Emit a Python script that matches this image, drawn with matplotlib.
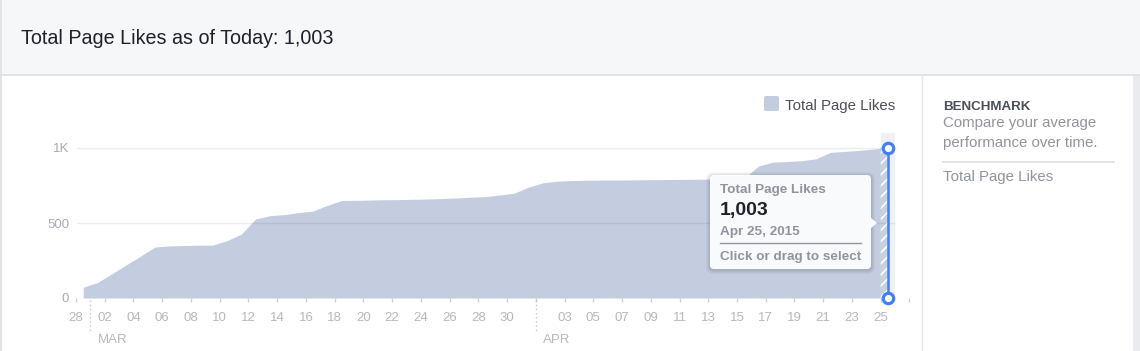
import numpy as np
import matplotlib
matplotlib.use('Agg')
import matplotlib.pyplot as plt
from matplotlib.patches import Rectangle, FancyBboxPatch, Polygon

plt.rcParams['font.family'] = ['Liberation Sans', 'DejaVu Sans']
plt.rcParams['hatch.linewidth'] = 1.2
plt.rcParams['hatch.color'] = 'white'

# total page likes per day, Feb 28 -> Apr 25 2015
likes = [72, 103, 162, 221, 280, 340, 347, 350, 352, 352, 382, 426, 527, 549, 556, 569,
         580, 618, 650, 651, 653, 655, 656, 658, 660, 663, 667, 672, 676, 687, 699, 739,
         768, 779, 783, 785, 786, 786, 787, 788, 789, 790, 791, 792, 793, 795, 797, 880,
         906, 910, 915, 928, 971, 977, 984, 993, 1003]
# one tick every 2 days starting Feb 28
tick_labels = ['28', '02', '04', '06', '08', '10', '12', '14', '16', '18', '20', '22', '24',
               '26', '28', '30', '', '03', '05', '07', '09', '11', '13', '15', '17', '19',
               '21', '23', '25', '']
months = ['MAR', 'APR']
month_start = [1, 32]   # day index of the 1st of each month
y_ticks = [0, 500, 1000]
y_labels = ['0', '500', '1K']
total = '1,003'
sel_date = 'Apr 25, 2015'

W, H = 1140, 351
X0, PXD = 76, 14.37    # pixel of day 0, pixels per day
Y0, PXV = 298, 0.15    # pixel of 0 likes, pixels per like

fig = plt.figure(figsize=(W / 100, H / 100), dpi=100, facecolor='white')

# background layer (page chrome)
bg = fig.add_axes([0, 0, 1, 1], zorder=0)
bg.set_xlim(0, W)
bg.set_ylim(H, 0)
bg.axis('off')
bg.add_patch(Rectangle((0, 0), W, 74, color='#f6f7f9', lw=0))
bg.plot([0, W], [74.5, 74.5], color='#dddfe2', lw=1.2)
bg.plot([1, 1], [0, H], color='#dddfe2', lw=1.2)
bg.plot([921.5, 921.5], [75, H], color='#e5e6e9', lw=1)
bg.add_patch(Rectangle((1133, 75), 7, H, color='#e9ebee', lw=0))
bg.text(21, 43.5, 'Total Page Likes as of Today: ' + total, fontsize=14.2, color='#1d2129',
        va='baseline')

# legend
bg.add_patch(FancyBboxPatch((764, 96), 15, 15, boxstyle='round,pad=0,rounding_size=2',
                            fc='#c4cde0', ec='none'))
bg.text(785, 110, 'Total Page Likes', fontsize=10.8, color='#4b4f56', va='baseline')

# benchmark panel
bg.text(943, 109.5, 'BENCHMARK', fontsize=9.6, fontweight='bold', color='#4b4f56', va='baseline')
bg.text(943, 127.5, 'Compare your average', fontsize=10.8, color='#90949c', va='baseline')
bg.text(943, 146.5, 'performance over time.', fontsize=10.8, color='#90949c', va='baseline')
bg.plot([943, 1114], [161.5, 161.5], color='#dddfe2', lw=1.2)
bg.text(943, 181.5, 'Total Page Likes', fontsize=10.8, color='#90949c', va='baseline')

# main chart
ax = fig.add_axes([X0 / W, (H - Y0) / H, (915 - X0) / W, (Y0 - 130) / H], zorder=1)
ax.patch.set_alpha(0)
ax.set_xlim(0, (915 - X0) / PXD)
ax.set_ylim(0, (Y0 - 130) / PXV)

days = np.arange(len(likes)) + 0.5
sel = len(likes) - 1

ax.fill_between([sel, sel + 1], 0, 1100, color='#f0f1f4', lw=0, zorder=0.5)
ax.fill_between(days, likes, color='#c4cde0', lw=0, zorder=1)
xs = [sel, days[sel]]
ax.fill_between(xs, np.interp(xs, days, likes), facecolor='#c9d0de', edgecolor='white',
                hatch='///', lw=0, zorder=1.5)
ax.hlines(y_ticks[1:], 0.1, sel + 1, colors='#1d2129', alpha=0.08, lw=1, zorder=2)

ax.plot([days[sel]] * 2, [0, likes[sel]], color='#4080ff', lw=1.8, zorder=4,
        solid_capstyle='butt')
ax.plot([days[sel]] * 2, [0, likes[sel]], 'o', ms=7.5, mfc='white', mec='#4080ff', mew=2.3,
        zorder=5, clip_on=False)

ax.set_xticks(np.arange(0, 2 * len(tick_labels), 2), tick_labels)
ax.tick_params(axis='x', length=3, width=1, color='#ccd0d5', pad=7, labelsize=9.5,
               labelcolor='#b4b8bf')
ax.set_yticks(y_ticks, y_labels)
ax.tick_params(axis='y', length=0, pad=5, labelsize=9.5, labelcolor='#a7abb2')
for s in ax.spines.values():
    s.set_visible(False)

for m, name in zip(month_start, months):
    ax.plot([m, m], [-13, -225], ls=(0, (1, 2)), color='#c4c8ce', lw=1, clip_on=False)
    ax.text(m + 0.5, -298, name, fontsize=9.5, color='#b4b8bf', va='baseline', ha='left')

# tooltip overlay
ov = fig.add_axes([0, 0, 1, 1], zorder=3)
ov.set_xlim(0, W)
ov.set_ylim(H, 0)
ov.axis('off')
for g in [4, 3, 2, 1]:
    ov.add_patch(FancyBboxPatch((710 - g, 175 - g + 1), 161 + 2 * g, 94 + 2 * g,
                                boxstyle='round,pad=0,rounding_size=%d' % (4 + g),
                                fc='black', ec='none', alpha=0.035))
ov.add_patch(FancyBboxPatch((710, 175), 161, 94, boxstyle='round,pad=0,rounding_size=4',
                            fc='#f9fafb', ec='none'))
ov.add_patch(Polygon([(870, 217), (877, 223), (870, 229)], closed=True, fc='#f9fafb',
                     ec='none'))
ov.text(720, 193.5, 'Total Page Likes', fontsize=9.7, fontweight='bold', color='#90949c',
        va='baseline')
ov.text(720, 215, total, fontsize=14, fontweight='bold', color='#1d2129', va='baseline')
ov.text(720, 235, sel_date, fontsize=9.7, fontweight='bold', color='#90949c', va='baseline')
ov.plot([720, 861], [242.5, 242.5], color='#90949c', lw=1)
ov.text(720, 260, 'Click or drag to select', fontsize=9.7, fontweight='bold', color='#90949c',
        va='baseline')

fig.savefig('out.png', dpi=100, facecolor='white')
